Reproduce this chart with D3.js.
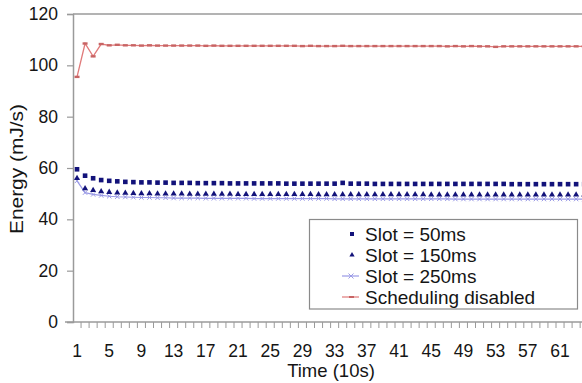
<!DOCTYPE html>
<html>
<head>
<meta charset="utf-8">
<script src="https://cdnjs.cloudflare.com/ajax/libs/d3/7.8.5/d3.min.js"></script>
<style>
  html, body { margin: 0; padding: 0; background: #fff; }
  svg { display: block; font-family: "Liberation Sans", Arial, sans-serif; }
</style>
</head>
<body>
<svg id="chart" width="582" height="383"></svg>
<script>
// Time steps (10 s each)
const timeSteps = d3.range(1, 65);

// Energy consumption (mJ/s) per time step
const slot50 = [59.5, 57.0, 56.0, 55.3, 55.0, 54.8, 54.6, 54.5, 54.4, 54.4,
  54.3, 54.3, 54.2, 54.2, 54.2, 54.1, 54.1, 54.1, 54.1, 54.0,
  54.0, 54.0, 54.0, 54.0, 54.0, 54.0, 53.9, 53.9, 53.9, 53.9,
  53.9, 53.9, 53.9, 54.2, 53.9, 53.9, 53.9, 53.8, 53.8, 53.8,
  53.8, 53.8, 53.8, 53.8, 53.8, 53.8, 53.8, 53.8, 53.8, 53.8,
  53.8, 53.8, 53.8, 53.8, 53.7, 53.7, 53.7, 53.7, 53.7, 53.7,
  53.7, 53.7, 53.7, 53.7];
const slot150 = [56.0, 52.0, 51.3, 50.8, 50.6, 50.4, 50.3, 50.2, 50.1, 50.1,
  50.0, 50.0, 50.0, 50.0, 49.9, 49.9, 49.9, 49.9, 49.9, 49.9,
  49.8, 49.8, 49.8, 49.8, 49.8, 49.8, 49.8, 49.8, 49.8, 49.8,
  49.7, 49.7, 49.7, 49.7, 49.7, 49.7, 49.7, 49.7, 49.7, 49.7,
  49.7, 49.7, 49.7, 49.7, 49.6, 49.6, 49.6, 49.6, 49.6, 49.6,
  49.6, 49.6, 49.6, 49.6, 49.6, 49.6, 49.6, 49.6, 49.6, 49.6,
  49.6, 49.6, 49.6, 49.6];
const slot250 = [55.0, 50.4, 49.7, 49.3, 49.0, 48.8, 48.7, 48.6, 48.5, 48.5,
  48.4, 48.4, 48.3, 48.3, 48.3, 48.3, 48.2, 48.2, 48.2, 48.2,
  48.2, 48.2, 48.1, 48.1, 48.1, 48.1, 48.1, 48.1, 48.1, 48.1,
  48.1, 48.1, 48.0, 48.0, 48.0, 48.0, 48.0, 48.0, 48.0, 48.0,
  48.0, 48.0, 48.0, 48.0, 48.0, 48.0, 48.0, 47.9, 47.9, 47.9,
  47.9, 47.9, 47.9, 47.9, 47.9, 47.9, 47.9, 47.9, 47.9, 47.9,
  47.9, 47.9, 47.9, 47.9];
const noScheduling = [95.5, 108.5, 103.5, 108.3, 107.8, 108.0, 107.8, 107.8, 107.7, 107.8,
  107.7, 107.7, 107.7, 107.7, 107.7, 107.7, 107.6, 107.7, 107.6, 107.6,
  107.6, 107.6, 107.6, 107.6, 107.6, 107.6, 107.6, 107.6, 107.5, 107.6,
  107.5, 107.5, 107.5, 107.6, 107.5, 107.5, 107.5, 107.5, 107.5, 107.5,
  107.5, 107.5, 107.5, 107.5, 107.5, 107.5, 107.4, 107.5, 107.4, 107.5,
  107.4, 107.4, 107.2, 107.4, 107.4, 107.4, 107.4, 107.4, 107.4, 107.4,
  107.4, 107.4, 107.4, 107.4];

const yTicks = [0, 20, 40, 60, 80, 100, 120];
const xTickLabels = d3.range(1, 64, 4);
const seriesNames = ["Slot = 50ms", "Slot = 150ms", "Slot = 250ms", "Scheduling disabled"];

const svg = d3.select("#chart");
const plotLeft = 73, plotTop = 14, plotBottom = 322;
const step = 8.05;

const x = d3.scaleBand().domain(timeSteps).range([plotLeft, plotLeft + step * timeSteps.length]);
const y = d3.scaleLinear().domain([0, 120]).range([plotBottom, plotTop]);
const cx = d => x(d) + x.bandwidth() / 2;

const axisColor = "#9a9a9a";
const textColor = "#151515";

// top border of the plot area
svg.append("line")
  .attr("x1", plotLeft).attr("x2", x.range()[1])
  .attr("y1", y(120)).attr("y2", y(120))
  .attr("stroke", axisColor).attr("stroke-width", 1.5);

// y axis
const yAxis = svg.append("g").attr("transform", `translate(${plotLeft},0)`)
  .call(d3.axisLeft(y).tickValues(yTicks).tickSize(6).tickPadding(9));
yAxis.select(".domain").attr("stroke", axisColor).attr("stroke-width", 1.5);
yAxis.selectAll(".tick line").attr("stroke", axisColor).attr("stroke-width", 1.2);
yAxis.selectAll(".tick text").attr("font-size", 17.5).attr("fill", textColor)
  .attr("font-family", "Liberation Sans, Arial, sans-serif");

// x axis: ticks between categories, labels every 4 steps
const xAxisG = svg.append("g").attr("transform", `translate(0,${plotBottom})`);
xAxisG.append("line")
  .attr("x1", plotLeft - 8).attr("x2", x.range()[1])
  .attr("stroke", axisColor).attr("stroke-width", 1.5);
xAxisG.selectAll("line.tk").data(timeSteps).join("line").attr("class", "tk")
  .attr("x1", d => x(d) + x.bandwidth()).attr("x2", d => x(d) + x.bandwidth())
  .attr("y1", 0).attr("y2", 6)
  .attr("stroke", axisColor).attr("stroke-width", 1);
xAxisG.selectAll("text").data(xTickLabels).join("text")
  .attr("x", d => cx(d)).attr("y", 34.5)
  .attr("text-anchor", "middle").attr("font-size", 17.5).attr("fill", textColor)
  .text(d => d);

// axis titles
svg.append("text").attr("x", 331).attr("y", 377)
  .attr("text-anchor", "middle").attr("font-size", 18.5).attr("fill", textColor)
  .text("Time (10s)");
svg.append("text").attr("transform", "translate(23,169) rotate(-90) scale(1.1,1)")
  .attr("text-anchor", "middle").attr("font-size", 19).attr("fill", textColor)
  .text("Energy (mJ/s)");

const line = d3.line().x((d, i) => cx(timeSteps[i])).y(d => y(d));

// Scheduling disabled
const red = "#e07a7a";
svg.append("path").datum(noScheduling).attr("d", line)
  .attr("fill", "none").attr("stroke", red).attr("stroke-width", 1.3);
svg.append("g").selectAll("rect").data(noScheduling).join("rect")
  .attr("x", (d, i) => cx(timeSteps[i]) - 2.5).attr("y", d => y(d) - 1.2)
  .attr("width", 5).attr("height", 2.4).attr("fill", "#c86464");

// Slot = 250ms
const lavender = "#9a9ae6";
svg.append("path").datum(slot250).attr("d", line)
  .attr("fill", "none").attr("stroke", lavender).attr("stroke-width", 1.2);
svg.append("g").selectAll("path").data(slot250).join("path")
  .attr("d", (d, i) => {
    const px = cx(timeSteps[i]), py = y(d), r = 2.2;
    return `M${px - r},${py - r}L${px + r},${py + r}M${px - r},${py + r}L${px + r},${py - r}`;
  })
  .attr("stroke", lavender).attr("stroke-width", 1);

// Slot = 150ms (triangles)
const navy = "#12127a";
const tri = d3.symbol().type(d3.symbolTriangle).size(16);
svg.append("g").selectAll("path").data(slot150).join("path")
  .attr("transform", (d, i) => `translate(${cx(timeSteps[i])},${y(d)})`)
  .attr("d", tri).attr("fill", navy);

// Slot = 50ms (squares)
svg.append("g").selectAll("rect").data(slot50).join("rect")
  .attr("x", (d, i) => cx(timeSteps[i]) - 2.3).attr("y", d => y(d) - 2.3)
  .attr("width", 4.6).attr("height", 4.6).attr("fill", navy);

// legend
const lg = svg.append("g");
lg.append("rect").attr("x", 309.5).attr("y", 219.5).attr("width", 268).attr("height", 89.5)
  .attr("fill", "#fff").attr("stroke", "#8a8a8a").attr("stroke-width", 1.2);
const rowY = i => 234 + i * 21;
lg.selectAll("text").data(seriesNames).join("text")
  .attr("x", 365).attr("y", (d, i) => rowY(i) + 7)
  .attr("font-size", 19).attr("fill", textColor).text(d => d);
lg.append("rect").attr("x", 350).attr("y", rowY(0) - 2).attr("width", 4).attr("height", 4).attr("fill", navy);
lg.append("path").attr("transform", `translate(352,${rowY(1)})`)
  .attr("d", d3.symbol().type(d3.symbolTriangle).size(12)).attr("fill", navy);
lg.append("line").attr("x1", 342).attr("x2", 359).attr("y1", rowY(2)).attr("y2", rowY(2))
  .attr("stroke", lavender).attr("stroke-width", 1.2);
lg.append("path").attr("d", `M348.5,${rowY(2) - 2.5}L353.5,${rowY(2) + 2.5}M348.5,${rowY(2) + 2.5}L353.5,${rowY(2) - 2.5}`)
  .attr("stroke", lavender).attr("stroke-width", 1);
lg.append("line").attr("x1", 342).attr("x2", 359).attr("y1", rowY(3)).attr("y2", rowY(3))
  .attr("stroke", red).attr("stroke-width", 1.2);
lg.append("rect").attr("x", 349).attr("y", rowY(3) - 1).attr("width", 5).attr("height", 2).attr("fill", "#c86464");
</script>
</body>
</html>
